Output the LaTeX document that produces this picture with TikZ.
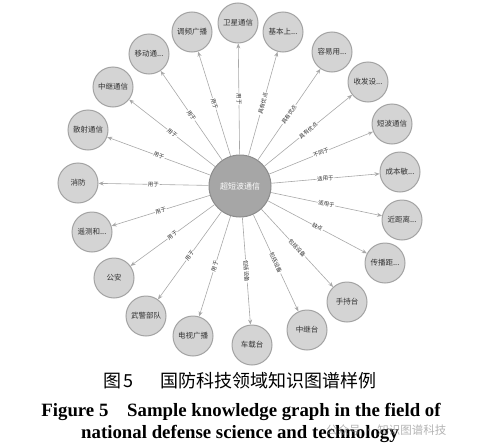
\documentclass[tikz,border=0pt]{standalone}
\usepackage{fontspec}
\setmainfont{Liberation Serif}
\newfontfamily\cjk{Noto Sans CJK SC}
\usetikzlibrary{arrows.meta}
\definecolor{nodefill}{HTML}{D4D4D4}
\definecolor{nodeline}{HTML}{A3A3A3}
\definecolor{hubfill}{HTML}{A6A6A6}
\definecolor{hubline}{HTML}{8C8C8C}
\definecolor{edgecol}{HTML}{A8A8A8}
\definecolor{txtcol}{HTML}{333333}
\newcommand\tdots{...}
\begin{document}
\begin{tikzpicture}[x=1pt,y=-1pt,
 leaf/.style={circle,draw=nodeline,fill=nodefill,line width=1pt,minimum size=40pt,inner sep=0pt,font=\cjk\fontsize{7.5}{8}\selectfont,text=txtcol},
 hub/.style={circle,draw=hubline,fill=hubfill,line width=1pt,minimum size=62pt,inner sep=0pt,font=\cjk\fontsize{8}{9}\selectfont,text=white},
 edge/.style={draw=edgecol,line width=0.6pt,-{Stealth[length=5pt,width=4pt]}},
 lbl/.style={sloped,fill=white,inner sep=0.6pt,font=\cjk\fontsize{5.5}{6}\selectfont,text=txtcol},
 capen/.style={font=\bfseries\fontsize{18.8}{20}\selectfont,anchor=base,inner sep=0pt}]
\useasboundingbox (0,0) rectangle (479,447);
\node[hub] (c) at (240,186) {超短波通信};
\foreach \n/\x/\y/\t/\l in {
 n1/238/23/卫星通信/用于,
 n2/192/32/调频广播/用于,
 n3/149/54/移动通\tdots/用于,
 n4/113/87/中继通信/用于,
 n5/88/130/散射通信/用于,
 n6/78/183/消防/用于,
 n7/92/232/遥测和\tdots/用于,
 n8/114/278/公安/用于,
 n9/146/316/武警部队/用于,
 n10/193/336/电视广播/用于,
 n11/252/345/车载台/包括设备,
 n12/307/330/中继台/包括设备,
 n13/347/302/手持台/包括设备,
 n14/385/263/传播距\tdots/缺点,
 n15/402/220/近距离\tdots/适用于,
 n16/400/172/成本敏\tdots/适用于,
 n17/392/124/短波通信/不同于,
 n18/368/82/收发设\tdots/具有优点,
 n19/332/52/容易用\tdots/具有优点,
 n20/283/32/基本上\tdots/具有优点}{
 \node[leaf] (\n) at (\x,\y) {\t};
 \draw[edge] (c) -- node[lbl]{\l} (\n);
}
\node[font=\cjk\fontsize{18}{20}\selectfont,anchor=base,inner sep=0pt] (cap1) at (240,387) {图\,5\hspace{1.5em}国防科技领域知识图谱样例};
\node[capen] (cap2) at (241,416) {Figure 5\quad Sample knowledge graph in the field of};
\node[capen] (cap3) at (240,438) {national defense science and technology};
\node[font=\cjk\fontsize{11.5}{13}\selectfont,text=gray,opacity=0.6,anchor=base west,inner sep=0pt] (wm) at (326,434) {公众号 · 知识图谱科技};
\end{tikzpicture}
\end{document}
